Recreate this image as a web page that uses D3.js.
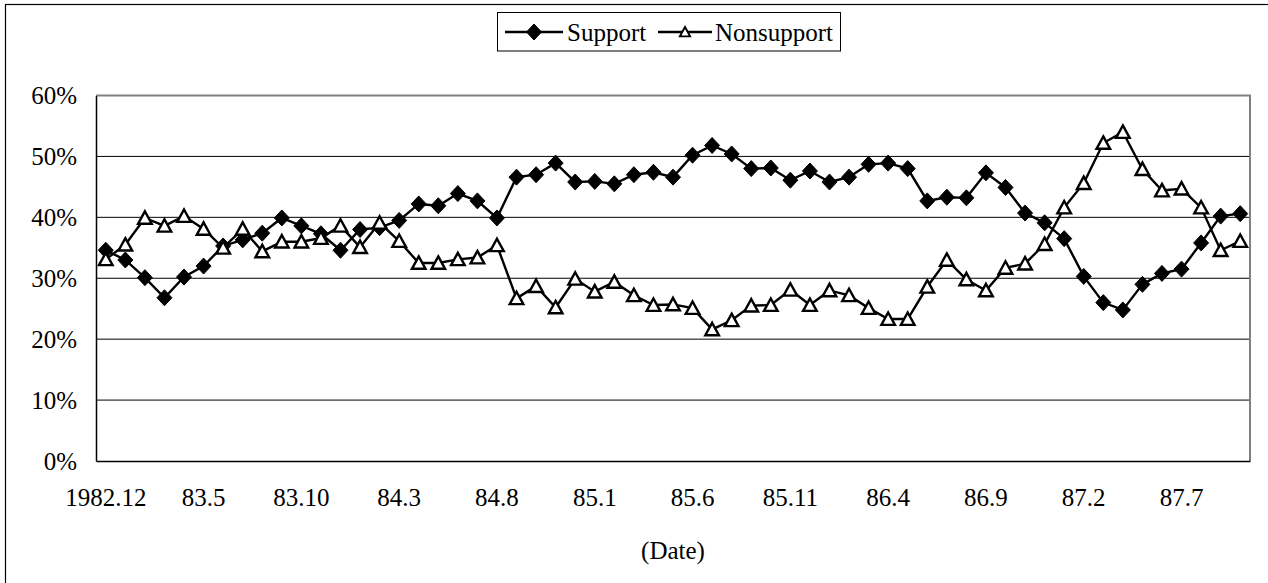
<!DOCTYPE html>
<html>
<head>
<meta charset="utf-8">
<script src="https://cdn.jsdelivr.net/npm/d3@7"></script>
<style>
  html, body { margin: 0; padding: 0; background: #fff; }
  svg { display: block; }
  svg text { font-family: "Liberation Serif", Tinos, "Times New Roman", serif !important; fill: #000; }
</style>
</head>
<body>
<svg id="chart" width="1268" height="583"></svg>
<script>
// Monthly survey periods, December 1982 to October 1987
const categories = [
  "1982.12",
  "83.1","83.2","83.3","83.4","83.5","83.6","83.7","83.8","83.9","83.10","83.11","83.12",
  "84.1","84.2","84.3","84.4","84.5","84.6","84.7","84.8","84.9","84.10","84.11","84.12",
  "85.1","85.2","85.3","85.4","85.5","85.6","85.7","85.8","85.9","85.10","85.11","85.12",
  "86.1","86.2","86.3","86.4","86.5","86.6","86.7","86.8","86.9","86.10","86.11","86.12",
  "87.1","87.2","87.3","87.4","87.5","87.6","87.7","87.8","87.9","87.10"
];

// Labels printed along the date axis (every fifth month)
const tickLabels = ["1982.12","83.5","83.10","84.3","84.8","85.1","85.6","85.11","86.4","86.9","87.2","87.7"];

// Share of respondents, in percent
const support = [
  34.6, 33.0, 30.1, 26.8, 30.2, 32.0, 35.3, 36.3, 37.4, 39.9,
  38.6, 37.3, 34.6, 38.0, 38.3, 39.5, 42.2, 41.9, 43.9, 42.7,
  39.9, 46.6, 47.0, 48.9, 45.8, 45.9, 45.5, 47.0, 47.4, 46.6,
  50.2, 51.8, 50.4, 48.0, 48.1, 46.1, 47.6, 45.8, 46.6, 48.7,
  48.9, 48.0, 42.7, 43.3, 43.2, 47.3, 44.9, 40.7, 39.1, 36.5,
  30.3, 26.0, 24.8, 29.0, 30.8, 31.5, 35.8, 40.2, 40.6
];
const nonsupport = [
  33.1, 35.5, 39.9, 38.6, 40.2, 38.1, 35.0, 38.1, 34.4, 36.0,
  36.0, 36.6, 38.6, 35.1, 39.1, 36.1, 32.5, 32.5, 33.1, 33.4,
  35.4, 26.7, 28.7, 25.2, 29.9, 27.8, 29.4, 27.2, 25.6, 25.7,
  25.1, 21.6, 23.1, 25.5, 25.6, 28.1, 25.6, 28.0, 27.2, 25.1,
  23.3, 23.3, 28.6, 33.0, 29.8, 28.0, 31.7, 32.4, 35.6, 41.6,
  45.6, 52.2, 54.0, 47.9, 44.4, 44.7, 41.6, 34.6, 36.1
];

const yTicks = [0, 10, 20, 30, 40, 50, 60];

const svg = d3.select("#chart");
const FONT = 25;

// Outer chart frame
svg.append("rect")
  .attr("x", 5.5).attr("y", 4.5)
  .attr("width", 1300).attr("height", 700)
  .attr("fill", "none").attr("stroke", "#000").attr("stroke-width", 1.2);

const plot = { left: 96, right: 1250, top: 95.5, bottom: 461 };

const x = d3.scaleBand().domain(categories).range([plot.left, plot.right]).padding(0);
const y = d3.scaleLinear().domain([0, 60]).range([plot.bottom, plot.top]);
const cx = d => x(d) + x.bandwidth() / 2;

// Horizontal gridlines
svg.append("g").selectAll("line")
  .data(yTicks.filter(t => t > 0 && t < 60))
  .join("line")
  .attr("x1", plot.left).attr("x2", plot.right)
  .attr("y1", d => y(d)).attr("y2", d => y(d))
  .attr("stroke", "#000").attr("stroke-width", 1);

// Plot area border (top and right in grey)
svg.append("path")
  .attr("d", `M${plot.left},${plot.top}H${plot.right}V${plot.bottom}`)
  .attr("fill", "none").attr("stroke", "#808080").attr("stroke-width", 2);

// Value axis
const yAxis = d3.axisLeft(y).tickValues(yTicks).tickSize(0).tickPadding(19)
  .tickFormat(d => d + "%");
const gy = svg.append("g").attr("transform", `translate(${plot.left},0)`).call(yAxis);
gy.attr("font-family", null);
gy.select(".domain").attr("stroke", "#000").attr("stroke-width", 1.5);
gy.selectAll("text").attr("font-size", FONT).attr("dy", "0.33em");

// Date axis
const xAxis = d3.axisBottom(x).tickValues(tickLabels).tickSize(0).tickPadding(0);
const gx = svg.append("g").attr("transform", `translate(0,${plot.bottom})`).call(xAxis);
gx.attr("font-family", null);
gx.select(".domain").attr("stroke", "#000").attr("stroke-width", 1.5);
gx.selectAll("text").attr("font-size", FONT).attr("y", 45).attr("dy", 0);

// Axis title
svg.append("text")
  .attr("x", (plot.left + plot.right) / 2).attr("y", 559)
  .attr("text-anchor", "middle").attr("font-size", FONT)
  .text("(Date)");

// Marker shapes
const diamondPath = "M0,-8L7.5,0L0,8L-7.5,0Z";
const trianglePath = "M0,-6.6L6.8,5.8L-6.8,5.8Z";

const line = d3.line().x((d, i) => cx(categories[i])).y(d => y(d));

function drawSeries(values, shape, filled) {
  const g = svg.append("g");
  g.append("path").datum(values)
    .attr("d", line)
    .attr("fill", "none").attr("stroke", "#000").attr("stroke-width", 2.4);
  g.selectAll("path.m").data(values).join("path")
    .attr("class", "m")
    .attr("d", shape)
    .attr("transform", (d, i) => `translate(${cx(categories[i])},${y(d)})`)
    .attr("fill", filled ? "#000" : "#fff")
    .attr("stroke", "#000").attr("stroke-width", filled ? 1 : 2.4)
    .attr("stroke-linejoin", "miter");
}

drawSeries(support, diamondPath, true);
drawSeries(nonsupport, trianglePath, false);

// Legend
const lg = svg.append("g");
lg.append("rect")
  .attr("x", 497.5).attr("y", 12.5).attr("width", 343).attr("height", 38.5)
  .attr("fill", "#fff").attr("stroke", "#000").attr("stroke-width", 1);

const legendItems = [
  { name: "Support", shape: diamondPath, filled: true, x0: 505, x1: 563, tx: 567 },
  { name: "Nonsupport", shape: trianglePath, filled: false, x0: 658, x1: 712, tx: 715 }
];
legendItems.forEach(it => {
  const ly = 32;
  lg.append("line").attr("x1", it.x0).attr("x2", it.x1).attr("y1", ly).attr("y2", ly)
    .attr("stroke", "#000").attr("stroke-width", 2.4);
  lg.append("path").attr("d", it.shape)
    .attr("transform", `translate(${(it.x0 + it.x1) / 2},${ly})` + (it.filled ? "" : " scale(0.75)"))
    .attr("fill", it.filled ? "#000" : "#fff")
    .attr("stroke", "#000").attr("stroke-width", it.filled ? 1 : 2.6);
  lg.append("text").attr("x", it.tx).attr("y", 40.5)
    .attr("font-size", FONT).text(it.name);
});
</script>
</body>
</html>
